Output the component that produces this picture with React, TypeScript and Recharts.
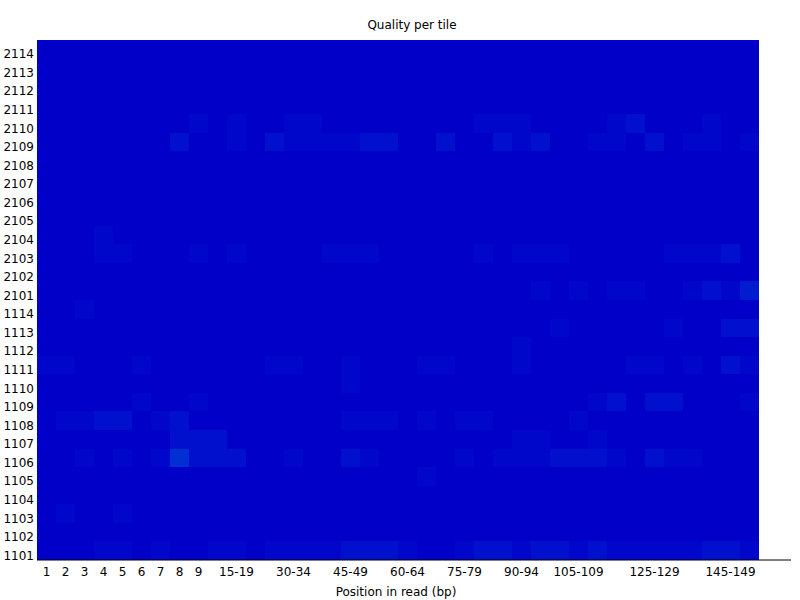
import { BarChart, Bar, XAxis, YAxis, Cell } from "recharts";

// tiles as drawn, top to bottom
const tiles = [
  "2114", "2113", "2112", "2111", "2110", "2109", "2108", "2107", "2106", "2105",
  "2104", "2103", "2102", "2101", "1114", "1113", "1112", "1111", "1110", "1109",
  "1108", "1107", "1106", "1105", "1104", "1103", "1102", "1101",
];

const positions = [
  "1", "2", "3", "4", "5", "6", "7", "8", "9",
  "10-14", "15-19", "20-24", "25-29", "30-34", "35-39", "40-44", "45-49", "50-54",
  "55-59", "60-64", "65-69", "70-74", "75-79", "80-84", "85-89", "90-94", "95-99",
  "100-104", "105-109", "110-114", "115-119", "120-124", "125-129", "130-134",
  "135-139", "140-144", "145-149", "150-151",
];

const shownLabels = [
  "1", "2", "3", "4", "5", "6", "7", "8", "9", "15-19", "30-34", "45-49",
  "60-64", "75-79", "90-94", "105-109", "125-129", "145-149",
];

// deviation level per tile, one entry per position group
const d2114 = [0,0,0,0,0,0,0,0,0,0, 0,0,0,0,0,0,0,0,0,0, 0,0,0,0,0,0,0,0,0,0, 0,0,0,0,0,0,0,0];
const d2113 = [0,0,0,0,0,0,0,0,0,0, 0,0,0,0,0,0,0,0,0,0, 0,0,0,0,0,0,0,0,0,0, 0,0,0,0,0,0,0,0];
const d2112 = [0,0,0,0,0,0,0,0,0,0, 0,0,0,0,0,0,0,0,0,0, 0,0,0,0,0,0,0,0,0,0, 0,0,0,0,0,0,0,0];
const d2111 = [0,0,0,0,0,0,0,0,0,0, 0,0,0,0,0,0,0,0,0,0, 0,0,0,0,0,0,0,0,0,0, 0,0,0,0,0,0,0,0];
const d2110 = [0,0,0,0,0,0,0,0,1,0, 1,0,0,1,1,0,0,0,0,0, 0,0,0,1,1,1,0,0,0,0, 1,2,0,0,0,1,0,0];
const d2109 = [0,0,0,0,0,0,0,2,0,0, 1,0,2,1,1,1,1,2,2,0, 0,2,0,0,2,1,2,0,0,1, 1,0,2,0,1,1,0,1];
const d2108 = [0,0,0,0,0,0,0,0,0,0, 0,0,0,0,0,0,0,0,0,0, 0,0,0,0,0,0,0,0,0,0, 0,0,0,0,0,0,0,0];
const d2107 = [0,0,0,0,0,0,0,0,0,0, 0,0,0,0,0,0,0,0,0,0, 0,0,0,0,0,0,0,0,0,0, 0,0,0,0,0,0,0,0];
const d2106 = [0,0,0,0,0,0,0,0,0,0, 0,0,0,0,0,0,0,0,0,0, 0,0,0,0,0,0,0,0,0,0, 0,0,0,0,0,0,0,0];
const d2105 = [0,0,0,0,0,0,0,0,0,0, 0,0,0,0,0,0,0,0,0,0, 0,0,0,0,0,0,0,0,0,0, 0,0,0,0,0,0,0,0];
const d2104 = [0,0,0,1,0,0,0,0,0,0, 0,0,0,0,0,0,0,0,0,0, 0,0,0,0,0,0,0,0,0,0, 0,0,0,0,0,0,0,0];
const d2103 = [0,0,0,1,1,0,0,0,1,0, 1,0,0,0,0,1,1,1,0,0, 0,0,0,1,0,1,1,1,0,0, 0,0,0,1,1,1,2,0];
const d2102 = [0,0,0,0,0,0,0,0,0,0, 0,0,0,0,0,0,0,0,0,0, 0,0,0,0,0,0,0,0,0,0, 0,0,0,0,0,0,0,0];
const d2101 = [0,0,0,0,0,0,0,0,0,0, 0,0,0,0,0,0,0,0,0,0, 0,0,0,0,0,0,1,0,1,0, 1,1,0,0,1,2,1,3];
const d1114 = [0,0,1,0,0,0,0,0,0,0, 0,0,0,0,0,0,0,0,0,0, 0,0,0,0,0,0,0,0,0,0, 0,0,0,0,0,0,0,0];
const d1113 = [0,0,0,0,0,0,0,0,0,0, 0,0,0,0,0,0,0,0,0,0, 0,0,0,0,0,0,0,1,0,0, 0,0,0,1,0,0,2,2];
const d1112 = [0,0,0,0,0,0,0,0,0,0, 0,0,0,0,0,0,0,0,0,0, 0,0,0,0,0,1,0,0,0,0, 0,0,0,0,0,0,0,0];
const d1111 = [1,1,0,0,0,1,0,0,0,0, 0,0,1,1,0,0,1,0,0,0, 1,1,0,0,0,1,0,0,0,0, 0,1,1,0,1,0,2,1];
const d1110 = [0,0,0,0,0,0,0,0,0,0, 0,0,0,0,0,0,1,0,0,0, 0,0,0,0,0,0,0,0,0,0, 0,0,0,0,0,0,0,0];
const d1109 = [0,0,0,0,0,1,0,0,1,0, 0,0,0,0,0,0,0,0,0,0, 0,0,0,0,0,0,0,0,0,1, 2,0,2,2,0,0,0,1];
const d1108 = [0,1,1,2,2,0,1,2,0,0, 0,0,0,0,0,0,1,1,1,0, 1,0,1,1,0,0,0,0,1,0, 0,0,0,0,0,0,0,0];
const d1107 = [0,0,0,0,0,0,0,2,2,2, 0,0,0,0,0,0,0,0,0,0, 0,0,0,0,0,1,1,0,0,1, 0,0,0,0,0,0,0,0];
const d1106 = [0,0,1,0,1,0,1,4,2,2, 2,0,0,1,0,0,2,1,0,0, 0,0,1,0,1,1,1,2,2,2, 1,0,2,1,1,0,0,0];
const d1105 = [0,0,0,0,0,0,0,0,0,0, 0,0,0,0,0,0,0,0,0,0, 1,0,0,0,0,0,0,0,0,0, 0,0,0,0,0,0,0,0];
const d1104 = [0,0,0,0,0,0,0,0,0,0, 0,0,0,0,0,0,0,0,0,0, 0,0,0,0,0,0,0,0,0,0, 0,0,0,0,0,0,0,0];
const d1103 = [0,1,0,0,1,0,0,0,0,0, 0,0,0,0,0,0,0,0,0,0, 0,0,0,0,0,0,0,0,0,0, 0,0,0,0,0,0,0,0];
const d1102 = [0,0,0,0,0,0,0,0,0,0, 0,0,0,0,0,0,0,0,0,0, 0,0,0,0,0,0,0,0,0,0, 0,0,0,0,0,0,0,0];
const d1101 = [0,0,0,1,1,0,1,0,0,1, 1,0,1,1,1,1,2,2,2,1, 0,0,1,2,2,1,2,2,1,2, 1,1,1,1,1,2,2,1];

const deviations = [
  d2114, d2113, d2112, d2111, d2110, d2109, d2108, d2107, d2106, d2105,
  d2104, d2103, d2102, d2101, d1114, d1113, d1112, d1111, d1110, d1109,
  d1108, d1107, d1106, d1105, d1104, d1103, d1102, d1101,
];

const levelColors = ["#0000c8", "#0007ca", "#0010cc", "#001ccf", "#0030d4"];

// each tile is a stacked band of height 1
const data = positions.map((pos) => {
  const row: Record<string, string | number> = { pos };
  tiles.forEach((t) => (row[t] = 1));
  return row;
});

const stackOrder = [...tiles].reverse();
const yTicks = stackOrder.map((_, i) => i + 0.5);

const font = "DejaVu Sans";

function TileTick(props: any) {
  const { x, y, payload } = props;
  const label = stackOrder[Math.floor(payload.value)];
  return (
    <text x={x} y={y} dy={9} textAnchor="end" fontSize={12} fontFamily={font} fill="#000">
      {label}
    </text>
  );
}

function PosTick(props: any) {
  const { x, y, payload } = props;
  if (!shownLabels.includes(payload.value)) return <g />;
  return (
    <text x={x} y={y} dy={16} textAnchor="middle" fontSize={12} fontFamily={font} fill="#000">
      {payload.value}
    </text>
  );
}

export default function App() {
  return (
    <div style={{ position: "absolute", left: 0, top: 0, width: 800, height: 600, background: "#fff", fontFamily: font }}>
      <div style={{ position: "absolute", left: 312, top: 18, width: 200, textAlign: "center", fontSize: 12, lineHeight: "14px" }}>
        Quality per tile
      </div>
      <BarChart
        width={800}
        height={600}
        data={data}
        margin={{ top: 40, right: 9, bottom: 0, left: 0 }}
        barCategoryGap={0}
        barGap={0}
      >
        <XAxis
          dataKey="pos"
          interval={0}
          height={40}
          padding={{ left: 0, right: 32 }}
          tickLine={false}
          tickSize={0}
          tickMargin={0}
          axisLine={{ stroke: "#000" }}
          tick={<PosTick />}
        />
        <YAxis
          type="number"
          domain={[0, 28]}
          ticks={yTicks}
          interval={0}
          width={37}
          axisLine={false}
          tickLine={false}
          tickSize={0}
          tickMargin={3}
          tick={<TileTick />}
        />
        {stackOrder.map((tile) => {
          const row = deviations[tiles.indexOf(tile)];
          return (
            <Bar key={tile} dataKey={tile} stackId="tiles" isAnimationActive={false}>
              {row.map((lvl, i) => (
                <Cell key={i} fill={levelColors[lvl]} shapeRendering="crispEdges" />
              ))}
            </Bar>
          );
        })}
      </BarChart>
      <div style={{ position: "absolute", left: 296, top: 585, width: 200, textAlign: "center", fontSize: 12, lineHeight: "14px" }}>
        Position in read (bp)
      </div>
    </div>
  );
}
